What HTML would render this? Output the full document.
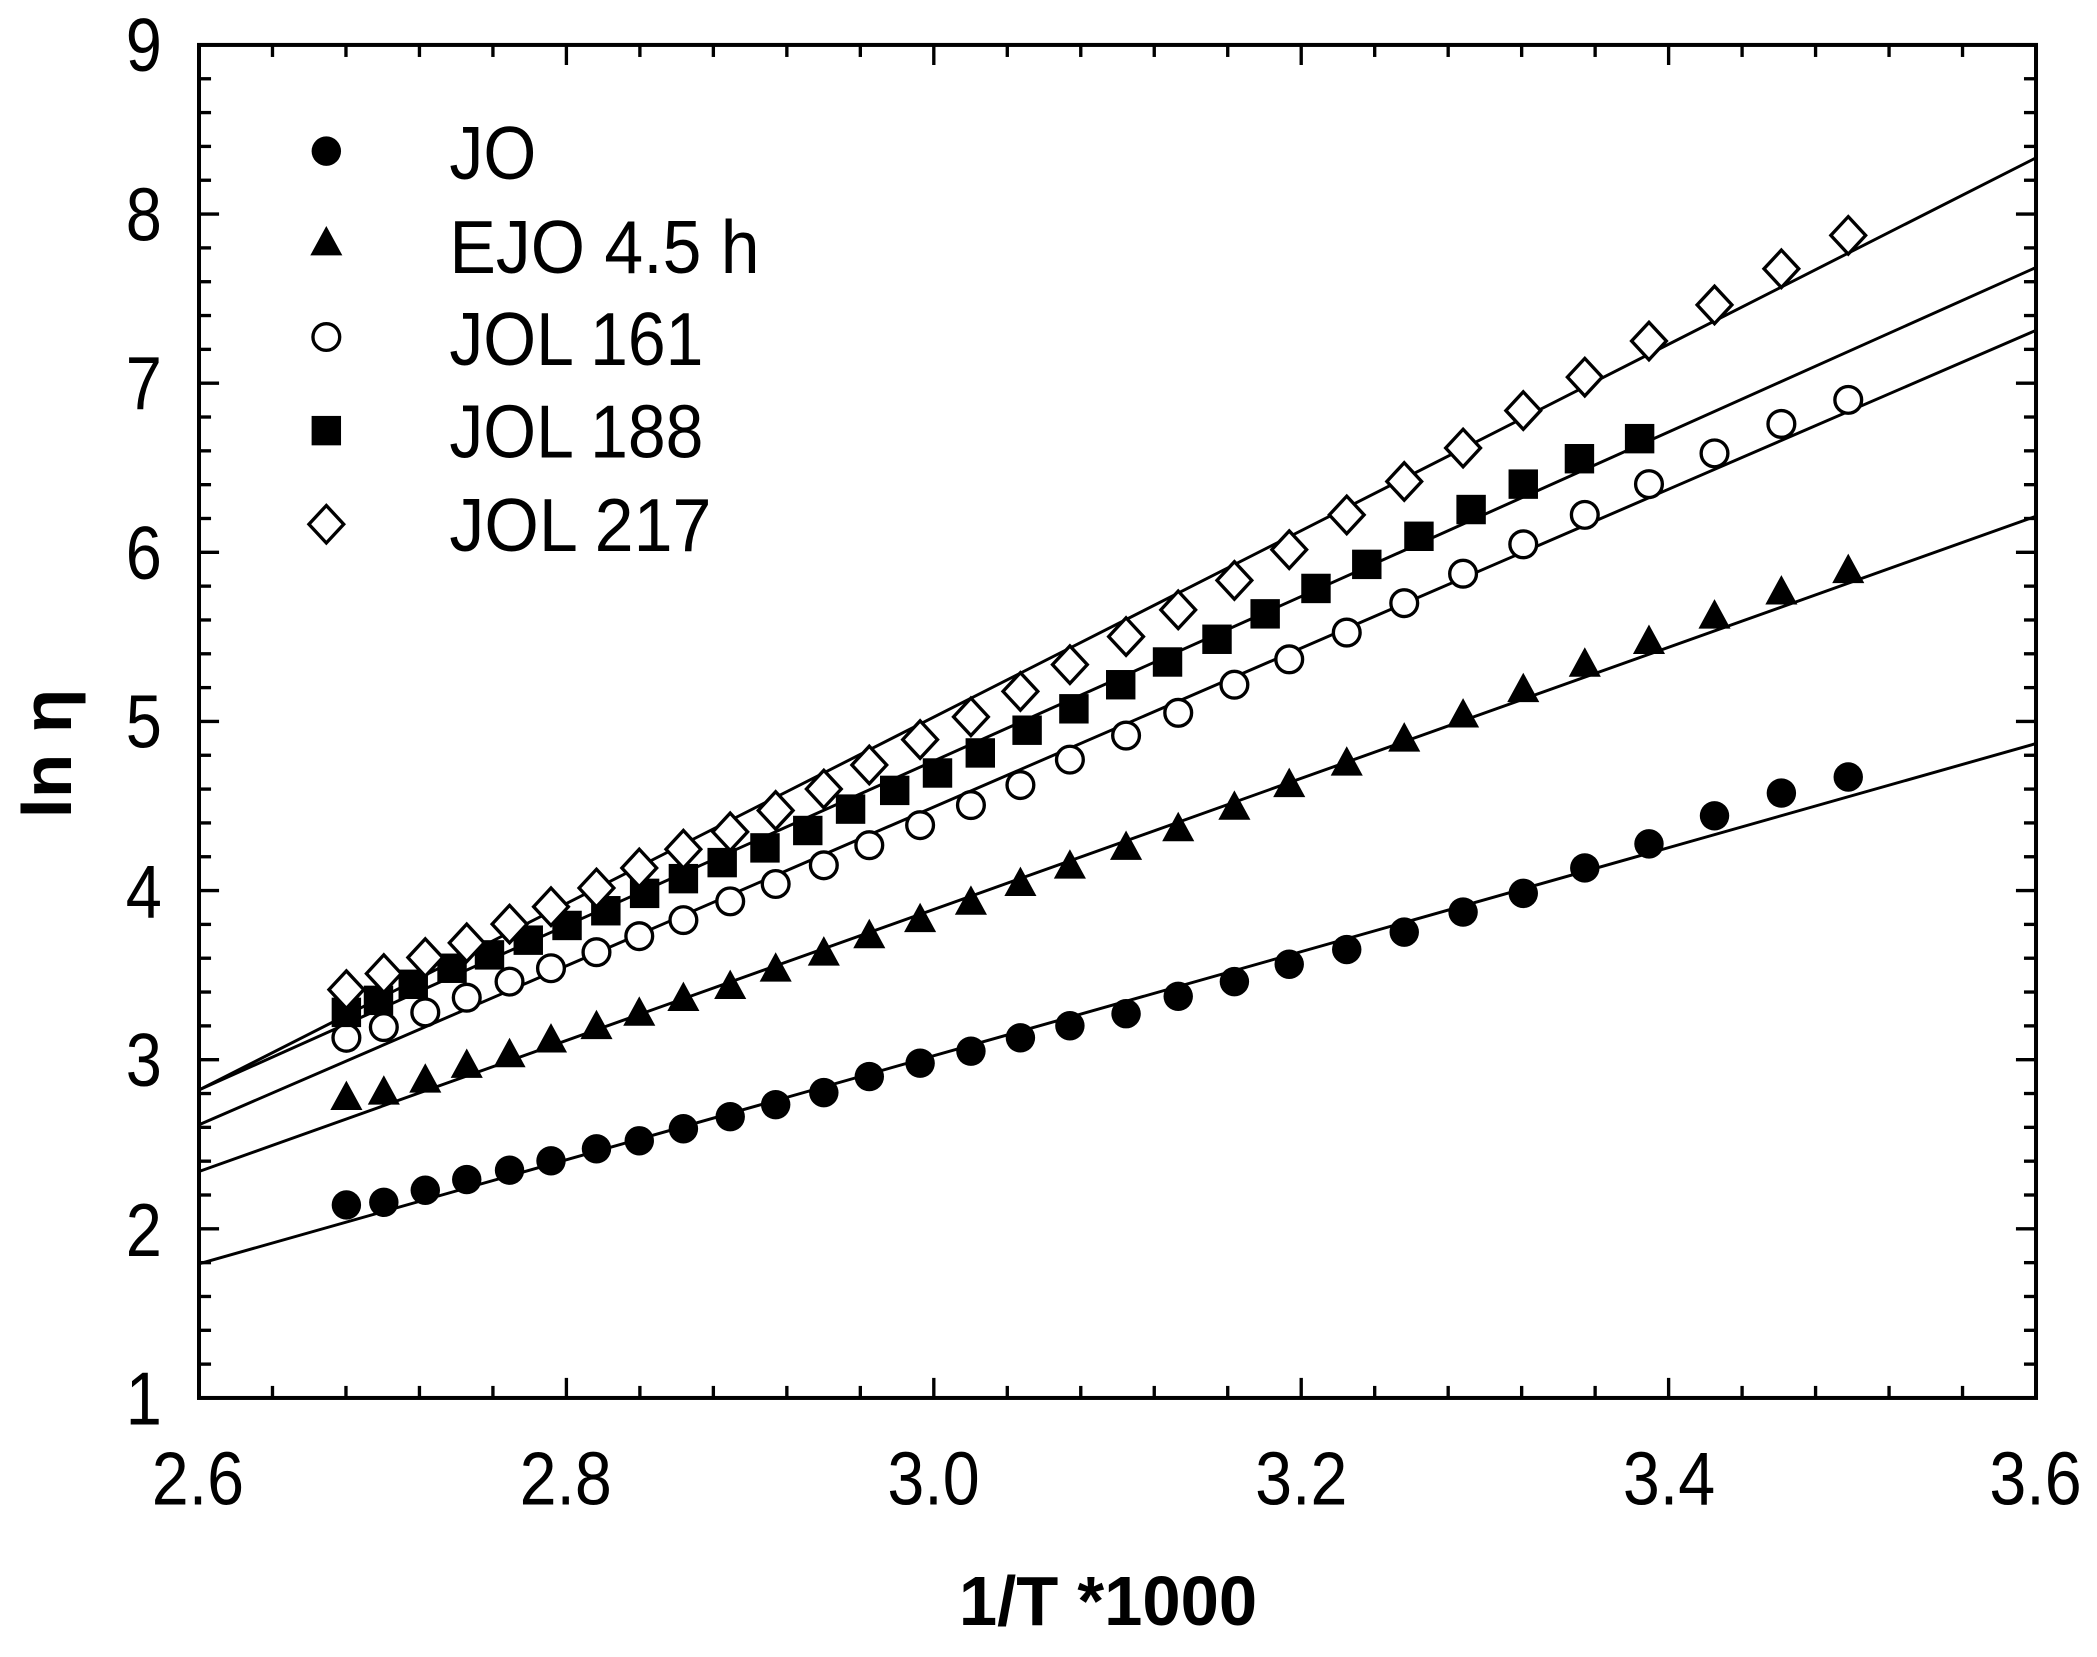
<!DOCTYPE html>
<html><head><meta charset="utf-8"><style>html,body{margin:0;padding:0;background:#fff}svg{display:block}</style></head>
<body>
<svg width="2097" height="1657" viewBox="0 0 1568 1239" xmlns="http://www.w3.org/2000/svg" font-family="Liberation Sans, Arial, sans-serif">
<defs>
<circle id="fc" r="11" fill="#000"/>
<circle id="oc" r="10" fill="#fff" stroke="#000" stroke-width="2.5"/>
<path id="tr" d="M0,-13 L12,9 L-12,9 Z" fill="#000"/>
<rect id="sq" x="-11" y="-11" width="22" height="22" fill="#000"/>
<path id="dm" d="M0,-14 L13,0 L0,14 L-13,0 Z" fill="#fff" stroke="#000" stroke-width="2.5"/>
</defs>
<g id="ticks" stroke="#000" stroke-width="2.5"></g>
<rect x="148.8" y="33.6" width="1373.6" height="1011.7" fill="none" stroke="#000" stroke-width="3"/>
<g stroke="#000" stroke-width="2.2" fill="none">
<line x1="148.8" y1="945" x2="1522.4" y2="556"/>
<line x1="148.8" y1="876" x2="1522.4" y2="386"/>
<line x1="148.8" y1="841" x2="1522.4" y2="247"/>
<line x1="148.8" y1="815" x2="1522.4" y2="200"/>
<line x1="148.8" y1="815" x2="1522.4" y2="118"/>
</g>
<g id="pts"></g>
<g font-size="56" fill="#000" text-anchor="middle" lengthAdjust="spacingAndGlyphs">
<text x="148" y="1125" textLength="69" lengthAdjust="spacingAndGlyphs">2.6</text>
<text x="423" y="1125" textLength="69" lengthAdjust="spacingAndGlyphs">2.8</text>
<text x="698" y="1125" textLength="69" lengthAdjust="spacingAndGlyphs">3.0</text>
<text x="973" y="1125" textLength="69" lengthAdjust="spacingAndGlyphs">3.2</text>
<text x="1248" y="1125" textLength="69" lengthAdjust="spacingAndGlyphs">3.4</text>
<text x="1522" y="1125" textLength="69" lengthAdjust="spacingAndGlyphs">3.6</text>
</g>
<g font-size="56" fill="#000" text-anchor="end">
<text x="121" y="1065" textLength="27" lengthAdjust="spacingAndGlyphs">1</text>
<text x="121" y="939" textLength="27" lengthAdjust="spacingAndGlyphs">2</text>
<text x="121" y="812" textLength="27" lengthAdjust="spacingAndGlyphs">3</text>
<text x="121" y="686" textLength="27" lengthAdjust="spacingAndGlyphs">4</text>
<text x="121" y="559" textLength="27" lengthAdjust="spacingAndGlyphs">5</text>
<text x="121" y="433" textLength="27" lengthAdjust="spacingAndGlyphs">6</text>
<text x="121" y="306" textLength="27" lengthAdjust="spacingAndGlyphs">7</text>
<text x="121" y="180" textLength="27" lengthAdjust="spacingAndGlyphs">8</text>
<text x="121" y="53" textLength="27" lengthAdjust="spacingAndGlyphs">9</text>
</g>
<text x="717" y="1215" font-size="52" font-weight="bold" textLength="223" lengthAdjust="spacingAndGlyphs">1/T *1000</text>
<text transform="translate(53,612) rotate(-90)" font-size="52" font-weight="bold" textLength="97" lengthAdjust="spacingAndGlyphs">ln η</text>
<g font-size="56">
<use href="#fc" x="244" y="113"/><text x="336" y="134" textLength="65" lengthAdjust="spacingAndGlyphs">JO</text>
<use href="#tr" x="244" y="182"/><text x="336" y="204" textLength="232" lengthAdjust="spacingAndGlyphs">EJO 4.5 h</text>
<use href="#oc" x="244" y="252"/><text x="336" y="273" textLength="190" lengthAdjust="spacingAndGlyphs">JOL 161</text>
<use href="#sq" x="244" y="322"/><text x="336" y="342" textLength="190" lengthAdjust="spacingAndGlyphs">JOL 188</text>
<use href="#dm" x="244" y="392"/><text x="336" y="412" textLength="196" lengthAdjust="spacingAndGlyphs">JOL 217</text>
</g>
</svg>
<script>
(function(){
var ns="http://www.w3.org/2000/svg";
var t=document.getElementById("ticks"),L=148.8,R=1522.4,T=33.6,B=1045.3;
function ln(a,b,c,d){var e=document.createElementNS(ns,"line");e.setAttribute("x1",a);e.setAttribute("y1",b);e.setAttribute("x2",c);e.setAttribute("y2",d);t.appendChild(e);}
for(var i=0;i<=25;i++){var x=L+(R-L)*i/25,len=(i%5==0)?15:9;ln(x,B,x,B-len);ln(x,T,x,T+len);}
for(var j=0;j<=40;j++){var y=B-(B-T)*j/40,len=(j%5==0)?15:9;ln(L,y,L+len,y);ln(R,y,R-len,y);}
var xs=[259,287,318,349,381,412,446,478,511,546,580,616,650,688,726,763,800,842,881,923,964,1007,1050,1094,1139,1185,1233,1282,1332,1382];
var jo=[901,899,890,882,875,868,859,853,844,835,826,817,805,795,786,776,767,758,745,734,721,710,697,682,668,649,631,610,593,581];
var ejo=[821,817,808,797,789,778,768,758,747,738,725,713,700,688,675,661,648,634,620,604,587,571,553,535,516,497,480,461,443,427];
var j161=[776,768,757,746,734,724,712,700,688,674,661,647,632,617,602,587,568,550,533,512,493,473,451,429,407,385,362,339,317,299];
var j217=[740,728,716,705,691,678,664,649,635,622,606,590,572,553,536,517,497,476,456,434,411,385,360,335,307,282,255,228,201,176];
var s188=[[259,757],[283,748],[309,736],[338,724],[366,714],[395,703],[424,692],[453,681],[482,668],[511,657],[540,645],[572,634],[604,621],[636,605],[669,591],[701,578],[733,563],[768,546],[803,530],[838,512],[873,495],[910,478],[946,459],[984,440],[1022,422],[1061,401],[1100,381],[1139,362],[1181,343],[1226,328]];
var g=document.getElementById("pts");
function u(id,x,y){var e=document.createElementNS(ns,"use");e.setAttribute("href","#"+id);e.setAttribute("x",x);e.setAttribute("y",y);g.appendChild(e);}
for(var k=0;k<xs.length;k++){u("fc",xs[k],jo[k]);u("tr",xs[k],ejo[k]);u("oc",xs[k],j161[k]);}
s188.forEach(function(p){u("sq",p[0],p[1]);});
for(var k=0;k<xs.length;k++){u("dm",xs[k],j217[k]);}
})();
</script>
</body></html>
